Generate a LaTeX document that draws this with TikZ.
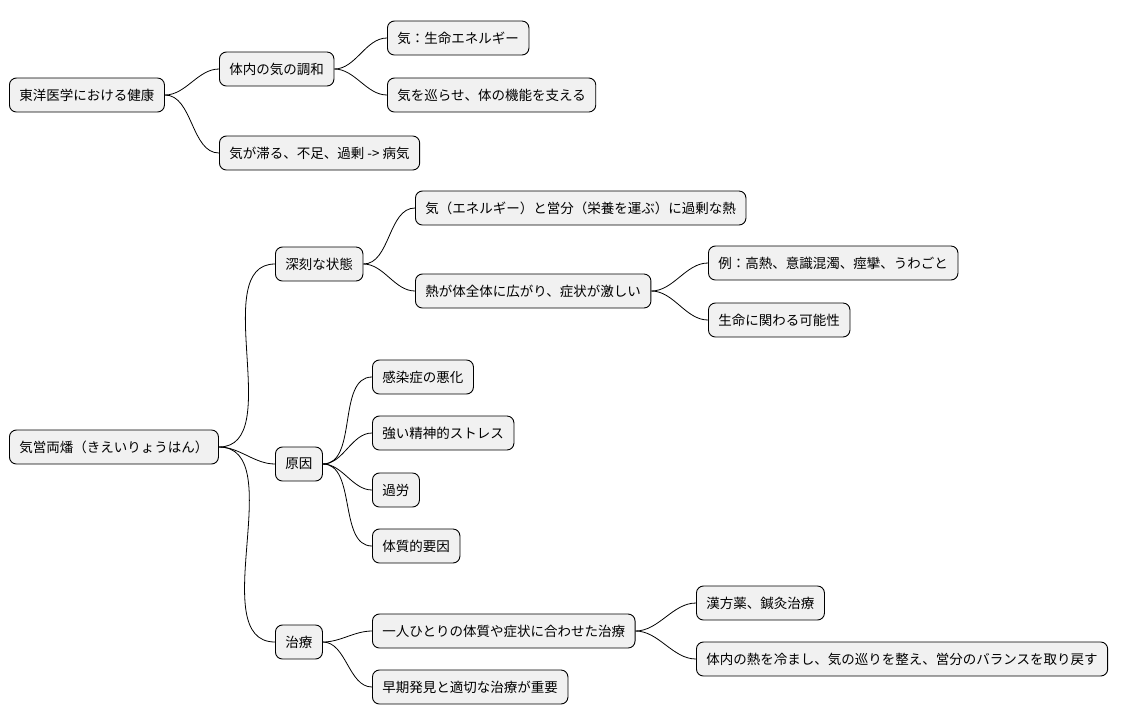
\documentclass[tikz,border=0pt]{standalone}
\usepackage{fontspec}
\setmainfont{Noto Sans CJK JP}
\usetikzlibrary{positioning,calc}
\definecolor{boxfill}{HTML}{F1F1F1}
\tikzstyle{topic} = [rectangle, rounded corners=7pt, draw, line width=0.9pt, fill=boxfill, minimum height=34pt, inner xsep=10pt, inner ysep=0pt, anchor=west, font=\fontsize{13.5}{16}\selectfont]
\tikzstyle{link} = [line width=0.8pt, out=0, in=180, looseness=0.9]

\begin{document}
\begin{tikzpicture}[x=1pt, y=-1pt]
    \useasboundingbox (0,0) rectangle (1132,724);
    \node[topic] (kenko) at (9,95) {東洋医学における健康};
    \node[topic] (chowa) at (219,69) {体内の気の調和};
    \node[topic] (ki) at (387,38) {気：生命エネルギー};
    \node[topic] (meguri) at (387,95) {気を巡らせ、体の機能を支える};
    \node[topic] (byoki) at (219,153) {気が滞る、不足、過剰 -> 病気};

    \node[topic] (kiei) at (9,447) {気営両燔（きえいりょうはん）};
    \node[topic] (shinkoku) at (275,264) {深刻な状態};
    \node[topic] (netsu) at (415,208) {気（エネルギー）と営分（栄養を運ぶ）に過剰な熱};
    \node[topic] (hirogari) at (415,291) {熱が体全体に広がり、症状が激しい};
    \node[topic] (rei) at (708,263) {例：高熱、意識混濁、痙攣、うわごと};
    \node[topic] (seimei) at (708,320) {生命に関わる可能性};
    \node[topic] (gen) at (275,464) {原因};
    \node[topic] (kansen) at (372,377) {感染症の悪化};
    \node[topic] (stress) at (372,433) {強い精神的ストレス};
    \node[topic] (karo) at (372,490) {過労};
    \node[topic] (taishitsu) at (372,546) {体質的要因};
    \node[topic] (chiryo) at (275,642) {治療};
    \node[topic] (hitori) at (372,631) {一人ひとりの体質や症状に合わせた治療};
    \node[topic] (kampo) at (696,603) {漢方薬、鍼灸治療};
    \node[topic] (hiyasu) at (696,659) {体内の熱を冷まし、気の巡りを整え、営分のバランスを取り戻す};
    \node[topic] (soki) at (372,687) {早期発見と適切な治療が重要};

    \foreach \a/\b in {kenko/chowa, kenko/byoki, chowa/ki, chowa/meguri,
        kiei/shinkoku, kiei/gen, kiei/chiryo, shinkoku/netsu, shinkoku/hirogari,
        hirogari/rei, hirogari/seimei, gen/kansen, gen/stress, gen/karo,
        gen/taishitsu, chiryo/hitori, chiryo/soki, hitori/kampo, hitori/hiyasu}
        \draw[link] (\a.east) to (\b.west);
\end{tikzpicture}
\end{document}
